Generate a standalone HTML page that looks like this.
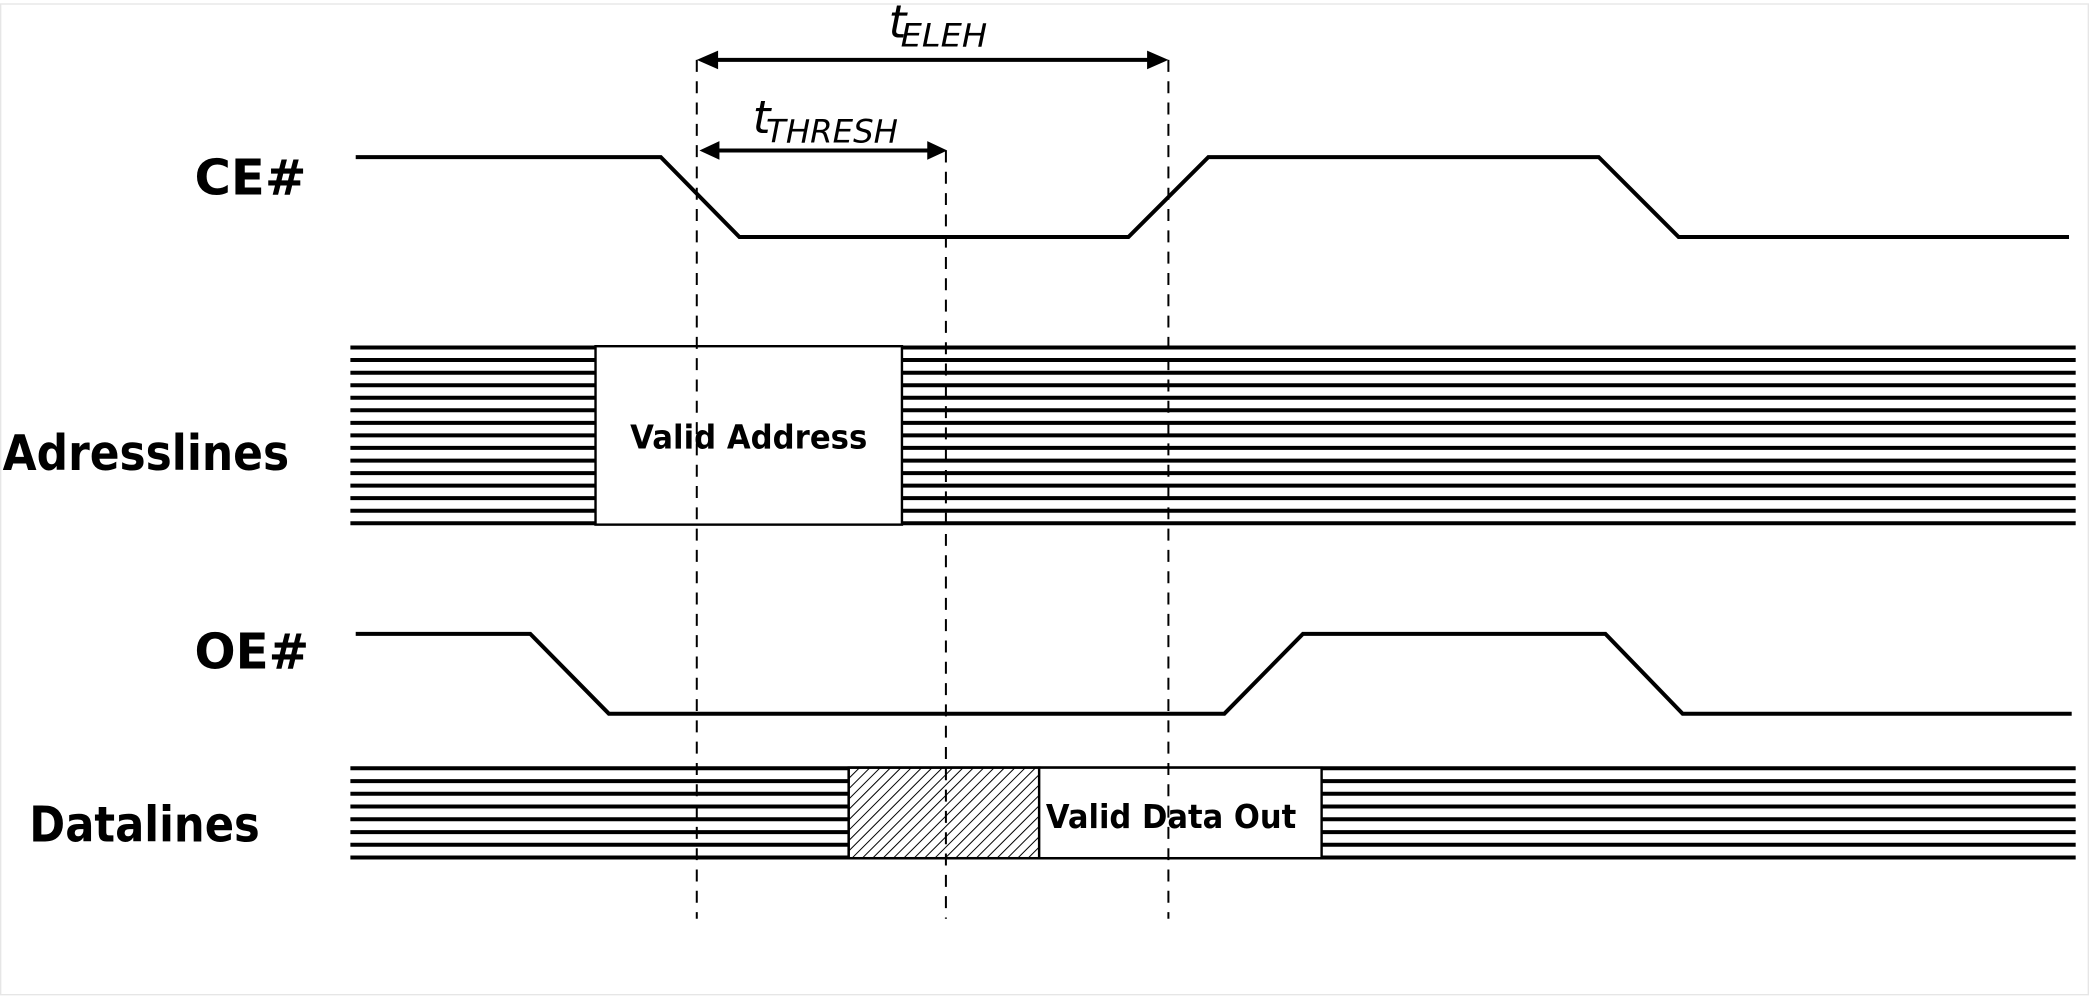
<!DOCTYPE html>
<html><head><meta charset="utf-8"><style>
html,body{margin:0;padding:0;background:#fff;}
svg{display:block;}
</style></head><body>
<svg width="2089" height="996" viewBox="0 0 1568 748" preserveAspectRatio="none" xmlns="http://www.w3.org/2000/svg">
<defs>
<pattern id="h" patternUnits="userSpaceOnUse" width="5.5" height="5.5" patternTransform="rotate(45)">
<line x1="0" y1="0" x2="0" y2="5.5" stroke="#000" stroke-width="1.5"/>
</pattern>
</defs>
<rect x="0.5" y="3" width="1567" height="744" fill="#fff" stroke="#e6e6e6" stroke-width="1"/>
<g fill="none" stroke="#000" stroke-width="3">
<polyline points="267,118 496,118 555,178 847,178 907,118 1200,118 1260,178 1553,178"/>
<polyline points="267,476 398,476 457,536 919,536 978,476 1205,476 1263,536 1555,536"/>
</g>
<g stroke="#000" stroke-width="3">
<line x1="263" y1="261" x2="1558" y2="261"/>
<line x1="263" y1="270.4" x2="1558" y2="270.4"/>
<line x1="263" y1="279.9" x2="1558" y2="279.9"/>
<line x1="263" y1="289.3" x2="1558" y2="289.3"/>
<line x1="263" y1="298.7" x2="1558" y2="298.7"/>
<line x1="263" y1="308.1" x2="1558" y2="308.1"/>
<line x1="263" y1="317.6" x2="1558" y2="317.6"/>
<line x1="263" y1="327" x2="1558" y2="327"/>
<line x1="263" y1="336.4" x2="1558" y2="336.4"/>
<line x1="263" y1="345.9" x2="1558" y2="345.9"/>
<line x1="263" y1="355.3" x2="1558" y2="355.3"/>
<line x1="263" y1="364.7" x2="1558" y2="364.7"/>
<line x1="263" y1="374.1" x2="1558" y2="374.1"/>
<line x1="263" y1="383.6" x2="1558" y2="383.6"/>
<line x1="263" y1="393" x2="1558" y2="393"/>
<line x1="263" y1="577" x2="1558" y2="577"/>
<line x1="263" y1="586.6" x2="1558" y2="586.6"/>
<line x1="263" y1="596.1" x2="1558" y2="596.1"/>
<line x1="263" y1="605.7" x2="1558" y2="605.7"/>
<line x1="263" y1="615.3" x2="1558" y2="615.3"/>
<line x1="263" y1="624.9" x2="1558" y2="624.9"/>
<line x1="263" y1="634.4" x2="1558" y2="634.4"/>
<line x1="263" y1="644" x2="1558" y2="644"/>
</g>
<rect x="447" y="260" width="230" height="134" fill="#fff" stroke="#000" stroke-width="1.8"/>
<rect x="637" y="576.5" width="143" height="68" fill="#fff" stroke="#000" stroke-width="1.8"/>
<rect x="637" y="576.5" width="143" height="68" fill="url(#h)" stroke="#000" stroke-width="1.8"/>
<rect x="780" y="576.5" width="212" height="68" fill="#fff" stroke="#000" stroke-width="1.8"/>
<g stroke="#000" stroke-width="1.5" stroke-dasharray="9,7">
<line x1="523" y1="45" x2="523" y2="690"/>
<line x1="710" y1="113" x2="710" y2="690"/>
<line x1="877" y1="45" x2="877" y2="690"/>
</g>
<g stroke="#000" stroke-width="3">
<line x1="534" y1="45" x2="866" y2="45"/>
<line x1="536" y1="113" x2="699" y2="113"/>
</g>
<g fill="#000">
<polygon points="523,45 539,38 539,52"/>
<polygon points="877,45 861,38 861,52"/>
<polygon points="525,113 540,106 540,120"/>
<polygon points="711,113 696,106 696,120"/>
</g>
<g font-family="'DejaVu Sans','Liberation Sans',sans-serif" font-weight="bold" fill="#000">
<text x="146" y="146" font-size="37" textLength="84" lengthAdjust="spacingAndGlyphs">CE#</text>
<text x="2" y="353" font-size="37" textLength="215" lengthAdjust="spacingAndGlyphs">Adresslines</text>
<text x="146" y="502" font-size="37" textLength="86" lengthAdjust="spacingAndGlyphs">OE#</text>
<text x="22" y="632" font-size="37" textLength="173" lengthAdjust="spacingAndGlyphs">Datalines</text>
<text x="473" y="337" font-size="25" textLength="178" lengthAdjust="spacingAndGlyphs">Valid Address</text>
<text x="785" y="622" font-size="25" textLength="188" lengthAdjust="spacingAndGlyphs">Valid Data Out</text>
</g>
<g font-family="'DejaVu Sans','Liberation Sans',sans-serif" font-style="italic" fill="#000">
<text x="667" y="28" font-size="34">t</text>
<text x="676" y="35" font-size="24" textLength="65" lengthAdjust="spacingAndGlyphs">ELEH</text>
<text x="565" y="100" font-size="34">t</text>
<text x="575" y="107" font-size="24" textLength="99" lengthAdjust="spacingAndGlyphs">THRESH</text>
</g>
</svg>
</body></html>
